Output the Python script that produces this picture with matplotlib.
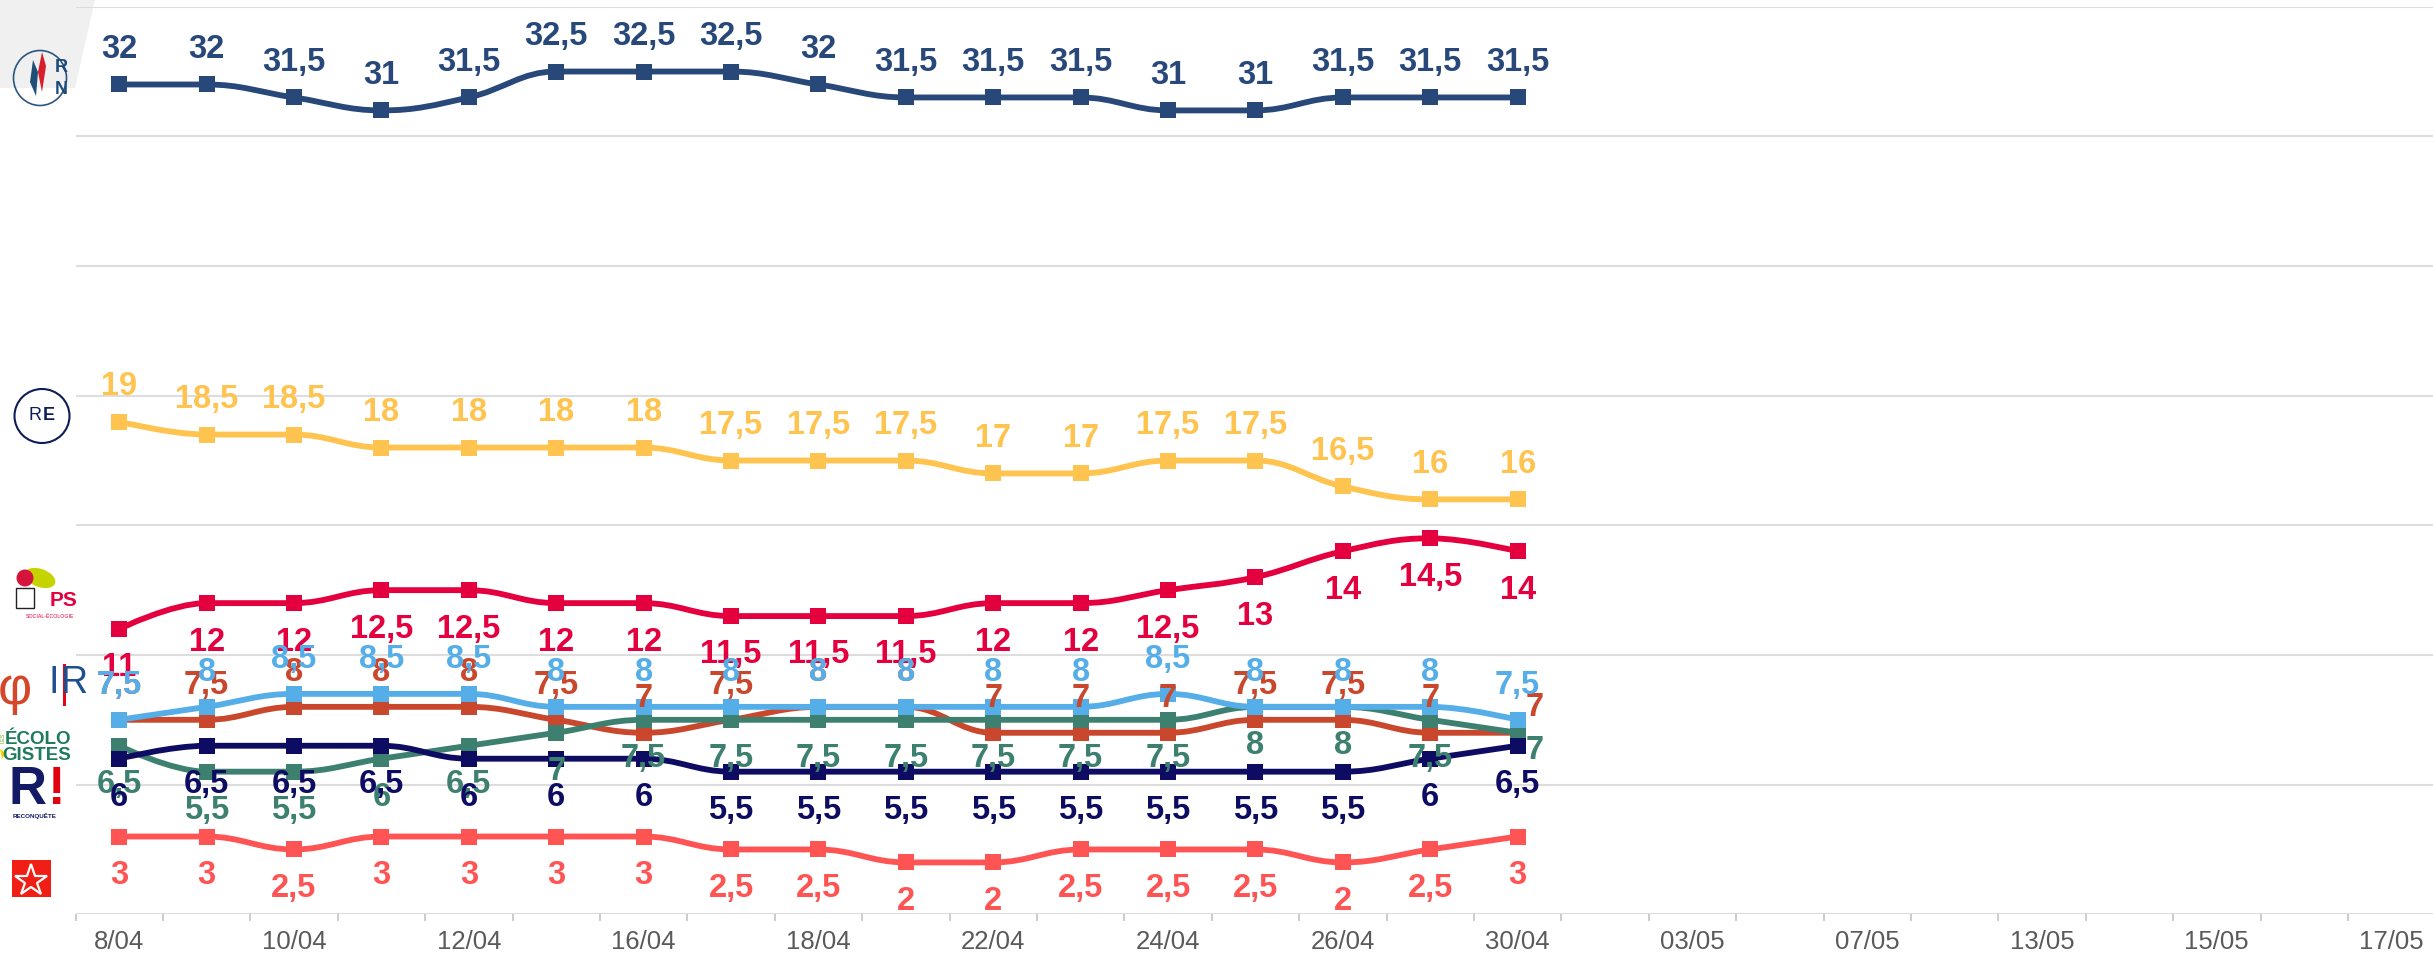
import numpy as np
import matplotlib.pyplot as plt
from matplotlib.path import Path
from matplotlib.patches import PathPatch, Polygon, Ellipse, Rectangle

plt.rcParams['font.family'] = ['Liberation Sans', 'DejaVu Sans']

# axe des dates : 27 créneaux, une étiquette sur deux
tick_labels = ['8/04', '10/04', '12/04', '16/04', '18/04', '22/04', '24/04',
               '26/04', '30/04', '03/05', '07/05', '13/05', '15/05', '17/05']
n_slots = 27

# intentions de vote (%)
rn = [32, 32, 31.5, 31, 31.5, 32.5, 32.5, 32.5, 32, 31.5, 31.5, 31.5, 31, 31, 31.5, 31.5, 31.5]
re = [19, 18.5, 18.5, 18, 18, 18, 18, 17.5, 17.5, 17.5, 17, 17, 17.5, 17.5, 16.5, 16, 16]
ps = [11, 12, 12, 12.5, 12.5, 12, 12, 11.5, 11.5, 11.5, 12, 12, 12.5, 13, 14, 14.5, 14]
lfi = [7.5, 7.5, 8, 8, 8, 7.5, 7, 7.5, 8, 8, 7, 7, 7, 7.5, 7.5, 7, 7]
ecolo = [6.5, 5.5, 5.5, 6, 6.5, 7, 7.5, 7.5, 7.5, 7.5, 7.5, 7.5, 7.5, 8, 8, 7.5, 7]
reconquete = [6, 6.5, 6.5, 6.5, 6, 6, 6, 5.5, 5.5, 5.5, 5.5, 5.5, 5.5, 5.5, 5.5, 6, 6.5]
lr = [7.5, 8, 8.5, 8.5, 8.5, 8, 8, 8, 8, 8, 8, 8, 8.5, 8, 8, 8, 7.5]
pcf = [3, 3, 2.5, 3, 3, 3, 3, 2.5, 2.5, 2, 2, 2.5, 2.5, 2.5, 2, 2.5, 3]


def spline_path(xs, ys, smoothing=1.5):
    # même lissage que les courbes "spline" de Highcharts
    n = len(xs)
    left = [(xs[i], ys[i]) for i in range(n)]
    right = [(xs[i], ys[i]) for i in range(n)]
    d = smoothing + 1
    for i in range(1, n - 1):
        lx, ly = xs[i - 1], ys[i - 1]
        px, py = xs[i], ys[i]
        nx, ny = xs[i + 1], ys[i + 1]
        lcx, lcy = (smoothing * px + lx) / d, (smoothing * py + ly) / d
        rcx, rcy = (smoothing * px + nx) / d, (smoothing * py + ny) / d
        corr = (rcy - lcy) * (rcx - px) / (rcx - lcx) + py - rcy
        lcy += corr
        rcy += corr
        if lcy > ly and lcy > py:
            lcy = max(ly, py); rcy = 2 * py - lcy
        elif lcy < ly and lcy < py:
            lcy = min(ly, py); rcy = 2 * py - lcy
        if rcy > ny and rcy > py:
            rcy = max(ny, py); lcy = 2 * py - rcy
        elif rcy < ny and rcy < py:
            rcy = min(ny, py); lcy = 2 * py - rcy
        left[i] = (lcx, lcy)
        right[i] = (rcx, rcy)
    verts = [(xs[0], ys[0])]
    codes = [Path.MOVETO]
    for i in range(1, n):
        verts += [right[i - 1], left[i], (xs[i], ys[i])]
        codes += [Path.CURVE4] * 3
    return Path(verts, codes)


def fmt(v):
    return f'{v:g}'.replace('.', ',')


W, H = 2433, 965
fig = plt.figure(figsize=(W / 100, H / 100), dpi=100)

# fond + logos, en pixels
bg = fig.add_axes([0, 0, 1, 1], zorder=0)
bg.set_xlim(0, W)
bg.set_ylim(H, 0)
bg.axis('off')
bg.add_patch(Polygon([(0, 0), (95, 0), (75, 88), (0, 88)], color='#f0f0f0', lw=0))

# RN
bg.add_patch(Ellipse((40, 78), 53, 55, fill=False, ec='#2a5680', lw=1.2))
bg.add_patch(Polygon([(33, 60), (38, 72), (36, 96), (30, 82)], color='#1f4e79', lw=0))
bg.add_patch(Polygon([(42, 52), (46, 66), (42, 92), (38, 72)], color='#d81e2c', lw=0))
bg.text(61, 67, 'R', fontsize=13, fontweight='bold', color='#1b4a78', ha='center', va='center')
bg.text(61, 89, 'N', fontsize=13, fontweight='bold', color='#1b4a78', ha='center', va='center')
# RE
bg.add_patch(Ellipse((42, 416), 55, 54, fill=False, ec='#0c1d5a', lw=1.5))
bg.text(35, 416, 'R', fontsize=13, color='#0c1d5a', ha='center', va='center')
bg.text(49, 416, 'E', fontsize=13, fontweight='bold', color='#0c1d5a', ha='center', va='center')
# PS
bg.add_patch(Ellipse((40, 578), 32, 18, angle=20, color='#c5d300', lw=0))
bg.add_patch(Ellipse((25, 578), 17, 17, color='#d4143a', lw=0))
bg.add_patch(Rectangle((16, 588), 18, 20, fc='white', ec='#222222', lw=1))
bg.text(64, 601, 'PS', fontsize=15, fontweight='bold', color='#e4003f', ha='center', va='center')
bg.text(50, 617, 'SOCIAL-ÉCOLOGIE', fontsize=3.8, color='#e4003f', ha='center', va='center')
# LFI / LR
bg.text(15, 690, 'φ', fontsize=38, color='#d5472b', ha='center', va='center')
bg.text(54, 683, 'I', fontsize=27, color='#1e4f8f', ha='center', va='center')
bg.add_patch(Rectangle((63, 664), 3, 42, color='#e30613', lw=0))
bg.text(74, 683, 'R', fontsize=27, color='#1e4f8f', ha='center', va='center')
# Les Écologistes
bg.text(3, 738, 'LES', fontsize=4, color='#6ab023', rotation=90, ha='center', va='center')
bg.text(38, 740, 'ÉCOLO', fontsize=13.5, fontweight='bold', color='#1e7b5b', ha='center', va='center')
bg.text(37, 756, 'GISTES', fontsize=13.5, fontweight='bold', color='#1e7b5b', ha='center', va='center')
bg.add_patch(Polygon([(0, 749), (6, 753), (2, 759)], color='#f5d300', lw=0))
# Reconquête
bg.text(27, 790, 'R', fontsize=38, fontweight='bold', color='#141a66', ha='center', va='center')
bg.text(57, 790, '!', fontsize=38, fontweight='bold', color='#e3000f', ha='center', va='center')
bg.text(35, 816, 'RECONQUÊTE', fontsize=4.5, fontweight='bold', color='#141a66', ha='center', va='center')
# PCF
bg.add_patch(Rectangle((12, 860), 39, 37, color='#f01e14', lw=0))
bg.plot([31], [881], marker='*', ms=24, mfc='none', mec='white', mew=1.6)

# graphique principal
ax = fig.add_axes([75.5 / W, (H - 914.3) / H, 87.4 * n_slots / W, (914.3 - 6.7) / H], zorder=1)
ax.set_facecolor('none')
ax.set_xlim(-0.5, n_slots - 0.5)
ax.set_ylim(0, 35)
for s in ax.spines.values():
    s.set_visible(False)
for y in range(5, 40, 5):
    ax.axhline(y, color='#dddddd', lw=1.5, zorder=0)
ax.axhline(0, color='#cfcfcf', lw=1.8, zorder=0)
ax.set_yticks([])
ax.set_xticks(range(0, n_slots, 2))
ax.set_xticklabels(tick_labels, fontsize=18.5, color='#5a5a5a')
ax.set_xticks(np.arange(-0.5, n_slots, 1), minor=True)
ax.tick_params(axis='x', which='major', length=0, pad=11)
ax.tick_params(axis='x', which='minor', length=5, width=1.4, color='#cccccc')

series = [
    (rn, '#28487a', 'up', 3),
    (re, '#ffc34f', 'up', 3),
    (ps, '#e4003f', 'down', 3),
    (lfi, '#c9472c', 'up', 4),
    (ecolo, '#3e8070', 'down', 5),
    (reconquete, '#0e0c62', 'down', 6),
    (lr, '#56aee8', 'up', 7),
    (pcf, '#ff5454', 'down', 3),
]
# décalages particuliers (points) pour les étiquettes du dernier sondage
label_shift = {(3, 16): (12, 18), (4, 16): (12, -13)}

x = np.arange(len(rn))
for k, (vals, color, side, z) in enumerate(series):
    ax.add_patch(PathPatch(spline_path(x, vals), fill=False, ec=color, lw=4.2,
                           capstyle='round', joinstyle='round', zorder=z))
    ax.plot(x, vals, ls='none', marker='s', ms=11, mew=0, color=color, zorder=z)
    for i, v in enumerate(vals):
        off = (0, 25) if side == 'up' else (0, -28)
        off = label_shift.get((k, i), off)
        ax.annotate(fmt(v), (i, v), xytext=off, textcoords='offset points',
                    ha='center', va='center', fontsize=23.5, fontweight='bold',
                    color=color, zorder=10 + k, annotation_clip=False)

fig.savefig('out.png', dpi=100)
